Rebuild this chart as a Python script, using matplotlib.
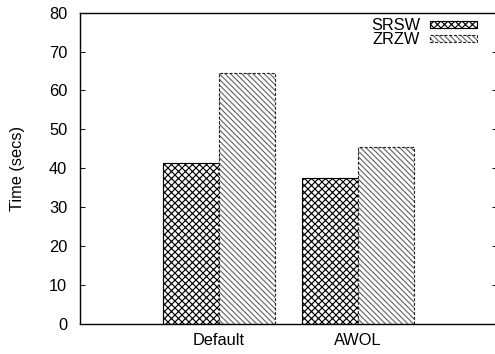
import matplotlib.pyplot as plt
from matplotlib.patches import Rectangle
import numpy as np

plt.rcParams['font.family'] = ['Liberation Sans', 'DejaVu Sans']
plt.rcParams['hatch.linewidth'] = 1.0

# run times for each configuration
configs = ['Default', 'AWOL']
series = ['SRSW', 'ZRZW']
srsw = [41.3, 37.5]
zrzw = [64.6, 45.4]

DPI = 84
W, H = 495, 354
fig = plt.figure(figsize=(W / DPI, H / DPI), dpi=DPI)
ax = fig.add_axes([80 / W, 1 - 323.5 / H, 417 / W, 310.8 / H])

x = np.arange(len(configs))
w = 0.4

srsw_style = dict(facecolor='white', edgecolor='black', hatch='xxxx', linewidth=1.0)
zrzw_fill = dict(facecolor='white', edgecolor='#666666', hatch='\\' * 5, linewidth=0)
zrzw_edge = dict(fill=False, edgecolor='#222222', linewidth=1.0,
                 linestyle=(0, (2.5, 1.5)))

ax.bar(x - w / 2, srsw, w, **srsw_style)
ax.bar(x + w / 2, zrzw, w, **zrzw_fill)
ax.bar(x + w / 2, zrzw, w, **zrzw_edge)

ax.set_xlim(-1, 2)
ax.set_ylim(0, 80)
ax.set_yticks(range(0, 81, 10))
ax.set_xticks(x)
ax.set_xticklabels(configs)
ax.set_ylabel('Time (secs)', fontsize=14, labelpad=20)

ax.tick_params(axis='y', direction='in', length=4, width=0.8, right=True,
               labelsize=14, pad=11)
ax.tick_params(axis='x', length=0, labelsize=14, pad=8)
for side in ['left', 'bottom', 'top']:
    ax.spines[side].set_linewidth(1.2)
ax.spines['right'].set_visible(False)


def px(xp, yp):
    # pixel position (from top-left) to figure fraction
    return xp / W, 1 - yp / H


# key in the top right corner: label, then a patch sample
for i, (name, styles) in enumerate(zip(series, [[srsw_style], [zrzw_fill, zrzw_edge]])):
    yc = 24 + 14.5 * i
    fig.text(*px(420, yc + 1.5), name, ha='right', va='center', fontsize=14)
    for st in styles:
        rx, ry = px(430, yc + 3.5)
        fig.add_artist(Rectangle((rx, ry), 47 / W, 7 / H,
                                 transform=fig.transFigure, **st))

fig.savefig('out.png', dpi=DPI)
